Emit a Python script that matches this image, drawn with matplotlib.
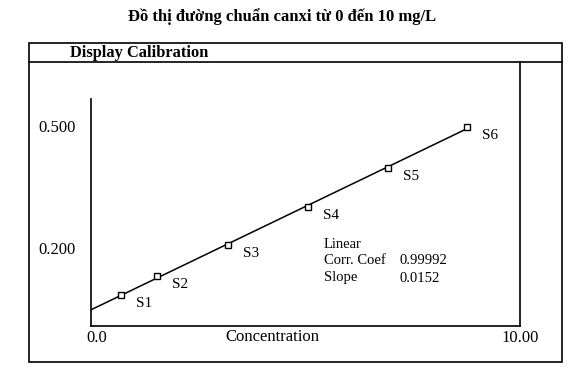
import numpy as np
import matplotlib
matplotlib.use("Agg")
import matplotlib.pyplot as plt
from matplotlib.patches import Rectangle
from matplotlib.lines import Line2D
from matplotlib.transforms import ScaledTranslation

plt.rcParams['font.family'] = ['Liberation Serif', 'DejaVu Serif']

# Du lieu doc tu hinh
nhan_chuan = ['S1', 'S2', 'S3', 'S4', 'S5', 'S6']
nong_do = [0.70, 1.54, 3.19, 5.06, 6.92, 8.76]
do_hap_thu = [0.084, 0.131, 0.207, 0.301, 0.397, 0.498]
ytick_vals = [0.2, 0.5]
ytick_labels = ['0.200', '0.500']
xtick_vals = [0, 10]
xtick_labels = ['0.0', '10.00']
thong_so = [('Linear', ''), ('Corr. Coef', '0.99992'), ('Slope', '0.0152')]

W, H = 585, 385
fig = plt.figure(figsize=(W / 100, H / 100), dpi=100)

def fx(px):
    return px / W

def fy(py):
    return 1 - py / H

# Khung ngoai va dong tieu de
fig.patches.append(Rectangle((fx(29), fy(362)), fx(562) - fx(29), fy(43) - fy(362),
                             transform=fig.transFigure, fill=False, lw=1.2, ec='black'))
fig.lines.append(Line2D([fx(29), fx(562)], [fy(62), fy(62)], transform=fig.transFigure,
                        lw=1.2, color='black'))
fig.text(fx(282), fy(17), 'Đồ thị đường chuẩn canxi từ 0 đến 10 mg/L', ha='center', va='center',
         fontsize=12, fontweight='bold')
fig.text(fx(70), fy(53), 'Display Calibration', ha='left', va='center', fontsize=11.8, fontweight='bold')

# Vung ve
ax = fig.add_axes([fx(91), fy(326), fx(520) - fx(91), fy(62) - fy(326)])
px_per_y = 122 / 0.3
y0 = 0.2 - (326 - 248) / px_per_y
y1 = 0.2 + (248 - 62) / px_per_y
ax.set_xlim(0, 10)
ax.set_ylim(y0, y1)
ax.spines['top'].set_visible(False)
for s in ['left', 'bottom', 'right']:
    ax.spines[s].set_linewidth(1.2)
ax.spines['left'].set_bounds(y0, 0.2 + (248 - 99) / px_per_y)

# Duong chuan (hoi quy tuyen tinh)
heso = np.polyfit(nong_do, do_hap_thu, 1)
xx = np.array([0, max(nong_do)])
ax.plot(xx, np.polyval(heso, xx), color='black', lw=1.1)
ax.plot(nong_do, do_hap_thu, 's', mfc='white', mec='black', ms=4.5, mew=1.0)

for nhan, x, y in zip(nhan_chuan, nong_do, do_hap_thu):
    ax.annotate(nhan, (x, y), xytext=(11, -6), textcoords='offset points',
                ha='left', va='center', fontsize=11)

ax.set_yticks(ytick_vals)
ax.set_yticklabels(ytick_labels)
ax.set_xticks(xtick_vals)
ax.set_xticklabels(xtick_labels)
ax.tick_params(axis='both', length=0, labelsize=12)
ax.tick_params(axis='y', pad=11)
ax.tick_params(axis='x', pad=3)
lbl0 = ax.get_xticklabels()[0]
lbl0.set_transform(lbl0.get_transform() + ScaledTranslation(0.06, 0, fig.dpi_scale_trans))

ax.text((272 - 91) / 429, -11 / 264, 'Concentration', transform=ax.transAxes,
        ha='center', va='center', fontsize=12)

# Thong so hoi quy
for i, (ten, gia_tri) in enumerate(thong_so):
    fig.text(fx(324), fy(244 + i * 17), ten, ha='left', va='center', fontsize=10.5)
    if gia_tri:
        fig.text(fx(399), fy(244 + i * 17), gia_tri, ha='left', va='center', fontsize=10.5)

fig.savefig('out.png', dpi=100)
